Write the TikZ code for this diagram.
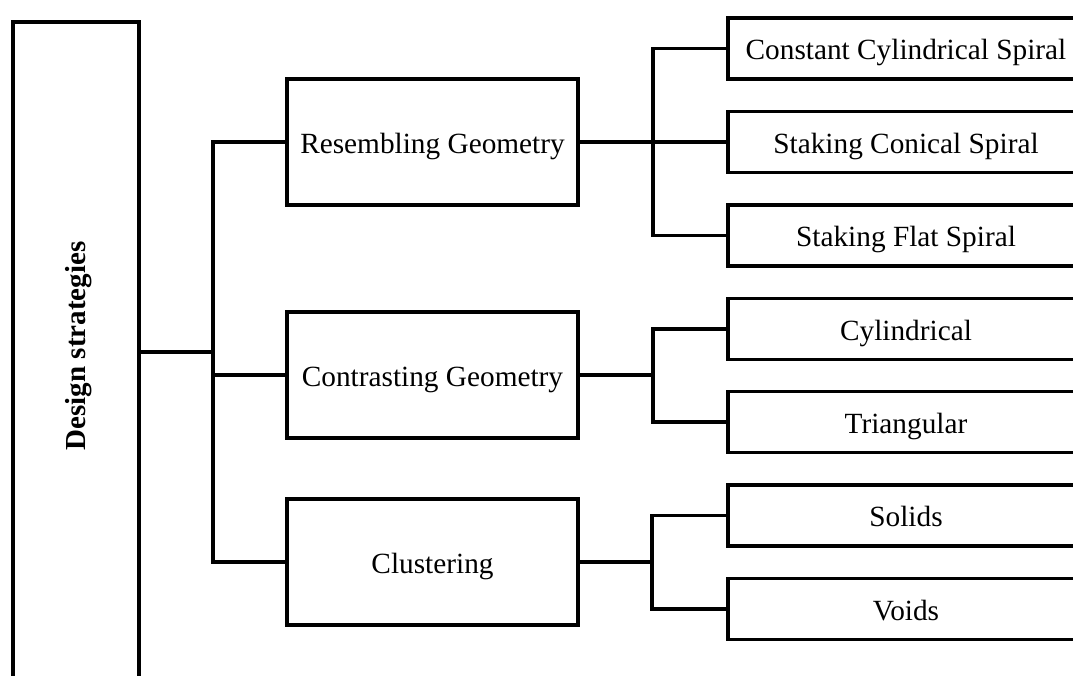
\documentclass[tikz,border=0pt]{standalone}
\usepackage{fontspec}
\setmainfont{Liberation Serif}
\begin{document}
\begin{tikzpicture}[x=1pt,y=-1pt,line width=3.3pt,
  every node/.style={inner sep=0pt,outer sep=0pt},
  box/.style={draw,rectangle,font=\fontsize{29.3}{34}\selectfont,text height=22pt,text depth=0pt},
  midbox/.style={box,minimum width=291pt,minimum height=126pt},
  leafbox/.style={box,minimum width=356pt,minimum height=61pt},
  conn/.style={draw,line width=3.3pt}]
\clip (0,0) rectangle (1073,675);
\fill[white] (0,0) rectangle (1073,675);
% left box
\node[draw,rectangle,minimum width=126pt,minimum height=700pt,anchor=north west] (ds) at (13,22) {};
\node[rotate=90,font=\fontsize{29}{34}\selectfont\bfseries] (dslabel) at (79,346) {Design strategies};
% middle
\node[midbox] (rg) at (432.5,142) {Resembling Geometry};
\node[midbox] (cg) at (432.5,375) {Contrasting Geometry};
\node[midbox] (cl) at (432.5,562) {Clustering};
% leaves
\node[leafbox] (c1) at (906,48.5) {Constant Cylindrical Spiral};
\node[leafbox] (c2) at (906,142) {Staking Conical Spiral};
\node[leafbox] (c3) at (906,235.5) {Staking Flat Spiral};
\node[leafbox] (cy) at (906,329) {Cylindrical};
\node[leafbox] (tr) at (906,422) {Triangular};
\node[leafbox] (so) at (906,515.5) {Solids};
\node[leafbox] (vo) at (906,609) {Voids};
% junctions
\coordinate (j0) at (213,352);
\coordinate (j1) at (653,142);
\coordinate (j2) at (653,375);
\coordinate (j3) at (652,562);
% connectors
\draw[conn] (ds.east |- j0) -- (j0);
\draw[conn] (rg.west) -| (j0) |- (cl.west);
\draw[conn] (cg.west) -- (cg.west -| j0);
\draw[conn] (rg.east) -- (j1);
\draw[conn] (c1.west) -| (j1) |- (c3.west);
\draw[conn] (c2.west) -- (j1);
\draw[conn] (cg.east) -- (j2);
\draw[conn] (cy.west) -| (j2) |- (tr.west);
\draw[conn] (cl.east) -- (j3);
\draw[conn] (so.west) -| (j3) |- (vo.west);
\end{tikzpicture}
\end{document}
